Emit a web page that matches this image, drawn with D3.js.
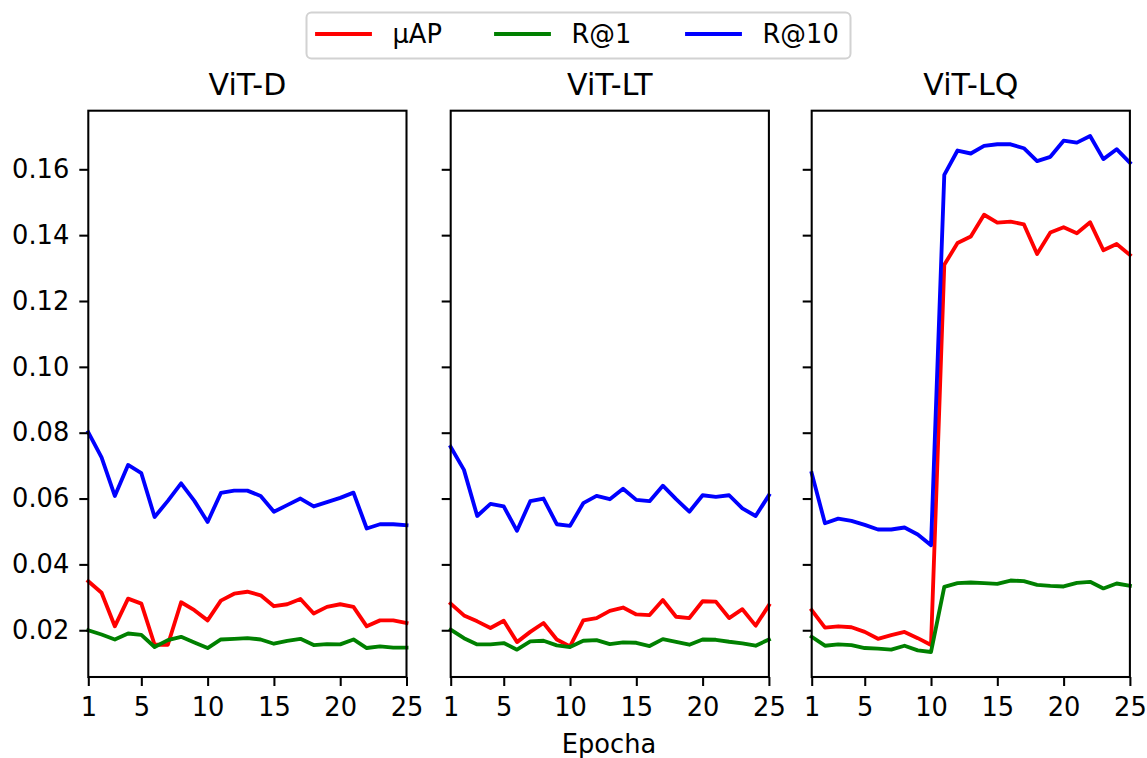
<!DOCTYPE html>
<html>
<head>
    <meta charset="utf-8">
    <script src="https://d3js.org/d3.v7.min.js"></script>
    <style>
        body { margin: 0; background: #fff; }
        text { font-family: "DejaVu Sans", sans-serif; fill: #000; }
    </style>
</head>
<body>
    <svg id="chart"></svg>

    <script>
        // Epochs on the x axis
        const epochs = d3.range(1, 26);

        // ViT-D
        const vitD_map = [0.0349, 0.0314, 0.0212, 0.0296, 0.0281, 0.0156, 0.0156, 0.0285, 0.0261, 0.0230,
            0.0290, 0.0311, 0.0317, 0.0306, 0.0273, 0.0279, 0.0295, 0.0251, 0.0271, 0.0279,
            0.0271, 0.0212, 0.0230, 0.0230, 0.0222];
        const vitD_r1 = [0.0200, 0.0187, 0.0172, 0.0190, 0.0186, 0.0149, 0.0170, 0.0180, 0.0163, 0.0146,
            0.0172, 0.0174, 0.0176, 0.0172, 0.0159, 0.0168, 0.0174, 0.0155, 0.0158, 0.0157,
            0.0172, 0.0146, 0.0151, 0.0147, 0.0147];
        const vitD_r10 = [0.0801, 0.0725, 0.0608, 0.0702, 0.0677, 0.0544, 0.0593, 0.0646, 0.0593, 0.0529,
            0.0617, 0.0624, 0.0624, 0.0608, 0.0560, 0.0580, 0.0600, 0.0576, 0.0589, 0.0602,
            0.0618, 0.0509, 0.0522, 0.0522, 0.0519];

        // ViT-LT
        const vitLT_map = [0.0281, 0.0245, 0.0227, 0.0207, 0.0229, 0.0164, 0.0195, 0.0222, 0.0172, 0.0151,
            0.0230, 0.0237, 0.0259, 0.0269, 0.0248, 0.0246, 0.0292, 0.0241, 0.0237, 0.0288,
            0.0287, 0.0237, 0.0264, 0.0214, 0.0276];
        const vitLT_r1 = [0.0202, 0.0176, 0.0157, 0.0157, 0.0161, 0.0141, 0.0166, 0.0168, 0.0154, 0.0149,
            0.0168, 0.0170, 0.0158, 0.0163, 0.0162, 0.0152, 0.0173, 0.0165, 0.0156, 0.0172,
            0.0171, 0.0165, 0.0160, 0.0153, 0.0172];
        const vitLT_r10 = [0.0757, 0.0687, 0.0547, 0.0584, 0.0576, 0.0502, 0.0592, 0.0600, 0.0522, 0.0517,
            0.0586, 0.0608, 0.0598, 0.0630, 0.0596, 0.0592, 0.0639, 0.0598, 0.0560, 0.0610,
            0.0605, 0.0610, 0.0570, 0.0547, 0.0610];

        // ViT-LQ
        const vitLQ_map = [0.0261, 0.0208, 0.0212, 0.0209, 0.0195, 0.0174, 0.0185, 0.0195, 0.0176, 0.0155,
            0.1310, 0.1376, 0.1396, 0.1462, 0.1438, 0.1441, 0.1433, 0.1343, 0.1408, 0.1424,
            0.1406, 0.1439, 0.1354, 0.1373, 0.1340];
        const vitLQ_r1 = [0.0180, 0.0153, 0.0157, 0.0155, 0.0146, 0.0144, 0.0141, 0.0153, 0.0139, 0.0134,
            0.0332, 0.0343, 0.0345, 0.0343, 0.0341, 0.0351, 0.0349, 0.0338, 0.0335, 0.0333,
            0.0344, 0.0347, 0.0327, 0.0342, 0.0335];
        const vitLQ_r10 = [0.0677, 0.0525, 0.0539, 0.0532, 0.0520, 0.0506, 0.0506, 0.0512, 0.0491, 0.0458,
            0.1583, 0.1657, 0.1648, 0.1671, 0.1676, 0.1676, 0.1664, 0.1625, 0.1638, 0.1687,
            0.1681, 0.1701, 0.1631, 0.1661, 0.1620];

        const panelNames = ["ViT-D", "ViT-LT", "ViT-LQ"];
        const metricNames = ["μAP", "R@1", "R@10"];
        const metricColors = ["#ff0000", "#008000", "#0000ff"];
        const xTicks = [1, 5, 10, 15, 20, 25];
        const yTicks = [0.02, 0.04, 0.06, 0.08, 0.10, 0.12, 0.14, 0.16];

        const panelData = [
            [vitD_map, vitD_r1, vitD_r10],
            [vitLT_map, vitLT_r1, vitLT_r10],
            [vitLQ_map, vitLQ_r1, vitLQ_r10]
        ];

        // Layout
        const width = 1147, height = 758;
        const panelLeft = [88.3, 450.7, 811.7];
        const panelW = 318.2;
        const plotTop = 110.7, plotBottom = 677;
        const fontSize = "25.7px";

        const svg = d3.select("#chart")
            .attr("width", width)
            .attr("height", height);

        const y = d3.scaleLinear()
            .domain([0.0058, 0.1778])
            .range([plotBottom, plotTop]);

        const line = (x) => d3.line()
            .x((d, i) => x(epochs[i]))
            .y(d => y(d));

        panelData.forEach((series, p) => {
            const x = d3.scaleLinear()
                .domain([1, 25])
                .range([panelLeft[p], panelLeft[p] + panelW]);

            const g = svg.append("g");

            // Lines
            series.forEach((vals, m) => {
                g.append("path")
                    .datum(vals)
                    .attr("fill", "none")
                    .attr("stroke", metricColors[m])
                    .attr("stroke-width", 3.85)
                    .attr("stroke-linejoin", "round")
                    .attr("stroke-linecap", "square")
                    .attr("d", line(x));
            });

            // Frame
            g.append("rect")
                .attr("x", panelLeft[p])
                .attr("y", plotTop)
                .attr("width", panelW)
                .attr("height", plotBottom - plotTop)
                .attr("fill", "none")
                .attr("stroke", "#000")
                .attr("stroke-width", 2.06);

            // X axis
            const xAxis = g.append("g")
                .attr("transform", `translate(0,${plotBottom})`)
                .call(d3.axisBottom(x).tickValues(xTicks).tickSize(9).tickPadding(12).tickFormat(d3.format("d")));
            xAxis.select(".domain").remove();
            xAxis.selectAll("line").attr("stroke-width", 2.06);
            xAxis.selectAll("text").style("font-size", fontSize).attr("font-family", null);

            // Y axis
            const yAxis = g.append("g")
                .attr("transform", `translate(${panelLeft[p]},0)`)
                .call(d3.axisLeft(y).tickValues(yTicks).tickSize(9).tickPadding(10)
                    .tickFormat(p === 0 ? d3.format(".2f") : () => ""));
            yAxis.select(".domain").remove();
            yAxis.selectAll("line").attr("stroke-width", 2.06);
            yAxis.selectAll("text").style("font-size", fontSize).attr("font-family", null);

            // Title
            g.append("text")
                .attr("x", panelLeft[p] + panelW / 2)
                .attr("y", 95)
                .attr("text-anchor", "middle")
                .style("font-size", "30px")
                .text(panelNames[p]);
        });

        svg.selectAll(".tick text").attr("fill", "#000");

        // X label
        svg.append("text")
            .attr("x", 609)
            .attr("y", 752.5)
            .attr("text-anchor", "middle")
            .style("font-size", fontSize)
            .text("Epocha");

        // Legend
        const legend = svg.append("g");
        legend.append("rect")
            .attr("x", 306.5)
            .attr("y", 12.5)
            .attr("width", 544)
            .attr("height", 46)
            .attr("rx", 5)
            .attr("fill", "#fff")
            .attr("stroke", "#d2d2d2")
            .attr("stroke-width", 2);

        const legendX = [317, 496, 687];
        metricNames.forEach((name, m) => {
            legend.append("line")
                .attr("x1", legendX[m])
                .attr("x2", legendX[m] + 53)
                .attr("y1", 34)
                .attr("y2", 34)
                .attr("stroke", metricColors[m])
                .attr("stroke-width", 3.85)
                .attr("stroke-linecap", "square");
            legend.append("text")
                .attr("x", legendX[m] + 75.5)
                .attr("y", 43.3)
                .style("font-size", fontSize)
                .text(name);
        });
    </script>
</body>
</html>
